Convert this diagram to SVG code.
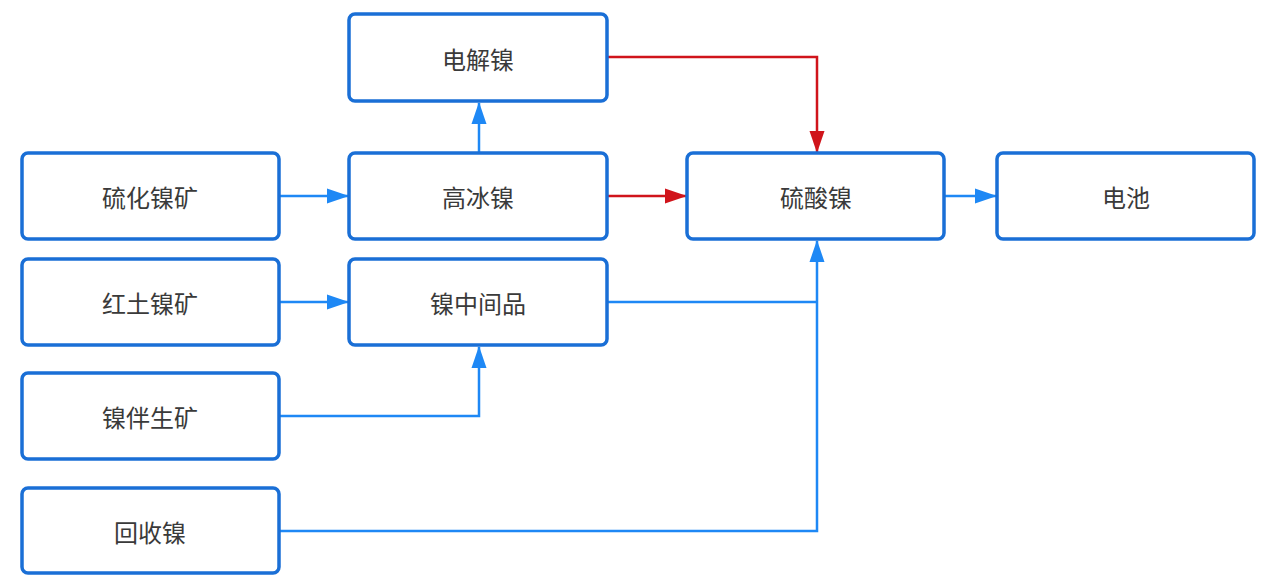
<svg xmlns="http://www.w3.org/2000/svg" width="1268" height="587" viewBox="0 0 1268 587">
<defs>
<style>
.box{fill:#fff;stroke:#1a6fd6;stroke-width:3.5}
.lbl{font-family:"Noto Sans CJK SC","Noto Sans",sans-serif;font-size:24px;fill:#3a3a3a;text-anchor:middle;dominant-baseline:central}
.blue{fill:none;stroke:#1e88f5;stroke-width:2.5}
.red{fill:none;stroke:#d0141b;stroke-width:2.5}
</style>
<marker id="ab" markerWidth="22" markerHeight="16" refX="21" refY="8" orient="auto" markerUnits="userSpaceOnUse"><path d="M0,0.5 L22,8 L0,15.5 Z" fill="#1e88f5"/></marker>
<marker id="ar" markerWidth="22" markerHeight="16" refX="21" refY="8" orient="auto" markerUnits="userSpaceOnUse"><path d="M0,0.5 L22,8 L0,15.5 Z" fill="#d0141b"/></marker>
</defs>
<rect width="1268" height="587" fill="#fff"/>
<g id="connectors">
<path class="blue" d="M280,196 H348" marker-end="url(#ab)"/>
<path class="blue" d="M280,302 H348" marker-end="url(#ab)"/>
<path class="blue" d="M280,416 H479 V347" marker-end="url(#ab)"/>
<path class="blue" d="M479,153 V103" marker-end="url(#ab)"/>
<path class="red" d="M608,57 H817 V152" marker-end="url(#ar)"/>
<path class="red" d="M608,196 H686" marker-end="url(#ar)"/>
<path class="blue" d="M608,302 H817"/>
<path class="blue" d="M280,531 H817 V241" marker-end="url(#ab)"/>
<path class="blue" d="M945,196 H996" marker-end="url(#ab)"/>
</g>
<g id="n_djn"><rect class="box" x="349" y="14" width="258" height="87" rx="6"/><text class="lbl" x="478" y="58">电解镍</text></g>
<g id="n_lhnk"><rect class="box" x="22" y="153" width="257" height="86" rx="6"/><text class="lbl" x="150" y="196">硫化镍矿</text></g>
<g id="n_gbn"><rect class="box" x="349" y="153" width="258" height="86" rx="6"/><text class="lbl" x="478" y="196">高冰镍</text></g>
<g id="n_lsn"><rect class="box" x="687" y="153" width="257" height="86" rx="6"/><text class="lbl" x="816" y="196">硫酸镍</text></g>
<g id="n_dc"><rect class="box" x="997" y="153" width="257" height="86" rx="6"/><text class="lbl" x="1126" y="196">电池</text></g>
<g id="n_htnk"><rect class="box" x="22" y="259" width="257" height="86" rx="6"/><text class="lbl" x="150" y="302">红土镍矿</text></g>
<g id="n_nzjp"><rect class="box" x="349" y="259" width="258" height="86" rx="6"/><text class="lbl" x="478" y="302">镍中间品</text></g>
<g id="n_nbsk"><rect class="box" x="22" y="373" width="257" height="86" rx="6"/><text class="lbl" x="150" y="416">镍伴生矿</text></g>
<g id="n_hsn"><rect class="box" x="22" y="488" width="257" height="85" rx="6"/><text class="lbl" x="150" y="531">回收镍</text></g>
</svg>
